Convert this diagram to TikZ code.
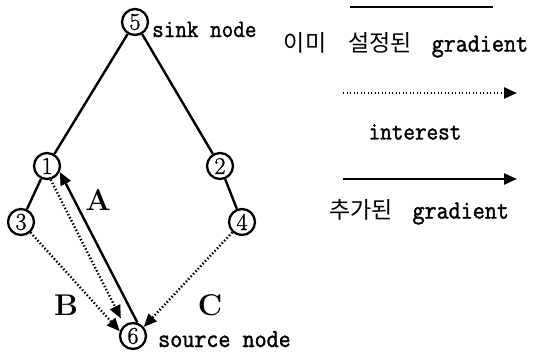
\documentclass[tikz,border=0pt]{standalone}
\usepackage{fontspec}
\newfontfamily\kr{Noto Sans CJK KR}
\newfontfamily\tw{Latin Modern Mono}[FakeBold=1.5,FakeStretch=0.9]
\newfontfamily\dg{Latin Modern Roman}[FakeBold=1.2]
\usetikzlibrary{arrows.meta}
\begin{document}
\begin{tikzpicture}[x=1pt,y=-1pt,
  nd/.style={circle,draw,line width=2.3pt,minimum size=26pt,inner sep=0pt,font=\fontsize{24}{24}\selectfont\dg},
  edge/.style={line width=2.4pt},
  dotline/.style={line width=2.4pt,dash pattern=on 1.4pt off 2.1pt},
  tip/.style={-{Triangle[length=13pt,width=11pt]}},
  lbl/.style={font=\fontsize{30}{30}\selectfont\bfseries},
  twtext/.style={font=\fontsize{26}{26}\selectfont\tw,inner sep=0pt},
]
\useasboundingbox (0,0) rectangle (536,356);
% nodes
\node[nd] (n5) at (135,22) {5};
\node[nd] (n1) at (47,166) {1};
\node[nd] (n2) at (220,166) {2};
\node[nd] (n3) at (21,222) {3};
\node[nd] (n4) at (242,222) {4};
\node[nd] (n6) at (133,336) {6};
% gradient tree
\draw[edge] (n5) -- (n1);
\draw[edge] (n5) -- (n2);
\draw[edge] (n1) -- (n3);
\draw[edge] (n2) -- (n4);
% interest / added gradient
\draw[dotline,tip] (n3) -- (n6.160);
\draw[dotline,tip] (n1.-75) -- ([shift={(-4,-6)}]n6.125);
\draw[dotline,tip] (n4) -- (n6.40);
\draw[edge,tip] (n6.72) -- (n1.-25);
% labels
\node[lbl] (la) at (98,200) {A};
\node[lbl] (lb) at (66,305) {B};
\node[lbl] (lc) at (210,305) {C};
\node[twtext,anchor=base west,font=\fontsize{25}{25}\selectfont\tw] (sink) at (152,37) {sink node};
\node[twtext,anchor=base west] (source) at (158,347) {source node};
% legend
\coordinate (l1a) at (350,7); \coordinate (l1b) at (493,7);
\draw[edge] (l1a) -- (l1b);
\node[inner sep=0pt] (t1) at (406,45) {{\kr\fontsize{23}{23}\selectfont 이미}\hspace{22pt}{\kr\fontsize{23}{23}\selectfont 설정된}\hspace{20pt}{\fontsize{26}{26}\selectfont\tw gradient}};
\coordinate (l2a) at (343,93); \coordinate (l2b) at (517,93);
\draw[dotline,tip] (l2a) -- (l2b);
\node[twtext,font=\fontsize{25}{25}\selectfont\tw] (t2) at (415,132) {interest};
\coordinate (l3a) at (343,179); \coordinate (l3b) at (517,179);
\draw[edge,tip] (l3a) -- (l3b);
\node[inner sep=0pt] (t3) at (419,212) {{\kr\fontsize{23}{23}\selectfont 추가된}\hspace{20pt}{\fontsize{26}{26}\selectfont\tw gradient}};
\end{tikzpicture}
\end{document}
